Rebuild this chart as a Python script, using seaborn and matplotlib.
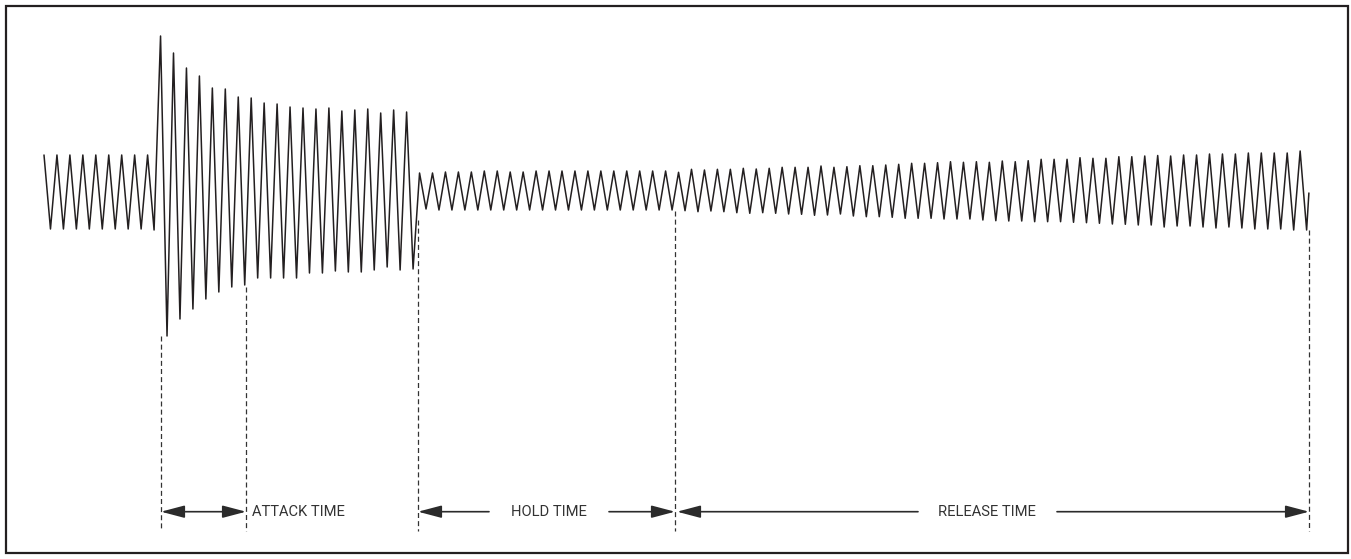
import numpy as np
import pandas as pd
import matplotlib
matplotlib.use("Agg")
import matplotlib.pyplot as plt
from matplotlib.patches import Rectangle
import seaborn as sns

# Waveform: level of each peak / trough (screen rows, smaller = higher),
# one vertex per half cycle.
pre_peaks = [155, 155, 155, 155, 155, 155, 155, 155, 155]
pre_troughs = [229, 229, 229, 229, 229, 229, 229, 229, 230]

attack_peaks = [36, 53, 68, 76, 88, 89, 97, 98, 103, 104,
                107, 108, 109, 108, 111, 110, 109, 113, 110, 112]
attack_troughs = [336, 319, 309, 299, 292, 287, 285, 278, 278, 278,
                  278, 273, 273, 271, 272, 272, 270, 267, 270, 269]

hold_peaks = [173, 173, 172, 172, 172, 171, 171, 172, 172, 171,
              171, 171, 171, 171, 171, 171, 171, 171, 171, 171]
hold_troughs = [209, 210, 210, 210, 210, 210, 210, 210, 210, 210,
                210, 210, 210, 210, 210, 210, 210, 210, 210, 210]

release_peaks = [172.3, 169.3, 170, 169.3, 169.3, 168.3, 169, 168.3, 167.3, 167.3,
                 167.3, 166, 167.3, 166.7, 165.7, 165.7, 165, 164.3, 163.3, 163.3,
                 162.7, 161.7, 162.3, 161.7, 162.3, 161, 161.7, 160.7, 159.3, 159.3,
                 159.3, 157.7, 158.3, 158.3, 156.7, 156.7, 156, 155.5, 156, 155,
                 155, 154, 154, 154, 153, 153, 153, 153, 151]
release_troughs = [210.7, 211.7, 211, 211.7, 212.7, 213.3, 212.7, 213.3, 214, 214.3,
                   215.3, 215, 214, 216, 216.7, 216.7, 217.3, 218.3, 218.3, 218.3,
                   219, 219, 219, 220, 220.7, 221, 221, 221.7, 221.7, 221.7,
                   222.3, 222.7, 223.3, 224, 224.3, 225, 225, 227, 226, 226,
                   227, 228, 227, 228, 229, 229, 229, 230, 230]
end_point = (195.35, 193)

# event boundaries (half-cycle index) and where each dashed marker starts
event_k = [18.07, 31.2, 57.76, 97.45, 195.37]
event_top = [336, 287, 220, 211, 230]
labels = ["ATTACK TIME", "HOLD TIME", "RELEASE TIME"]

levels = []
for peaks, troughs in [(pre_peaks, pre_troughs), (attack_peaks, attack_troughs),
                       (hold_peaks, hold_troughs), (release_peaks, release_troughs)]:
    for p, t in zip(peaks, troughs):
        levels += [p, t]
df = pd.DataFrame({"k": list(range(len(levels))) + [end_point[0]],
                   "level": levels + [end_point[1]]})

sns.set_style("white")
plt.rcParams["font.family"] = ["Roboto", "DejaVu Sans"]
ink = "#231f20"
txt = dict(fontsize=10.6, color="#333333", va="baseline")

fig = plt.figure(figsize=(13.51, 5.59), dpi=100)
ax = fig.add_axes([0, 0, 1, 1])
sns.lineplot(data=df, x="k", y="level", sort=False, estimator=None,
             color=ink, lw=1.1, ax=ax, legend=False)

# pixel -> half-cycle index for layout
px = lambda x: (x - 44) / 6.475

for k, top in zip(event_k, event_top):
    ax.plot([k, k], [top, 531], color="#333333", lw=0.9, dashes=(4, 2.5))

arrow_y = 511.7
arr = dict(mutation_scale=20, shrinkA=0, shrinkB=0, color="#2b2b2b", lw=1.2)
one = "-|>,head_length=0.72,head_width=0.19"
two = "<|-|>,head_length=0.72,head_width=0.19"

ax.annotate("", xy=(event_k[1], arrow_y), xytext=(event_k[0], arrow_y),
            arrowprops=dict(arrowstyle=two, **arr))
ax.text(px(252), 516.5, labels[0], ha="left", **txt)

ax.annotate("", xy=(event_k[2], arrow_y), xytext=(px(489), arrow_y),
            arrowprops=dict(arrowstyle=one, **arr))
ax.text(px(549), 516.5, labels[1], ha="center", **txt)
ax.annotate("", xy=(event_k[3], arrow_y), xytext=(px(609), arrow_y),
            arrowprops=dict(arrowstyle=one, **arr))

ax.annotate("", xy=(px(677), arrow_y), xytext=(px(918), arrow_y),
            arrowprops=dict(arrowstyle=one, **arr))
ax.text(px(986.5), 516.5, labels[2], ha="center", **txt)
ax.annotate("", xy=(event_k[4], arrow_y), xytext=(px(1057), arrow_y),
            arrowprops=dict(arrowstyle=one, **arr))

ax.set_xlim(px(0), px(1351))
ax.set_ylim(559, 0)
ax.axis("off")

# outer frame
fig.patches.append(Rectangle((6 / 1351, 6 / 559), 1342 / 1351, 547 / 559,
                             transform=fig.transFigure, fill=False,
                             edgecolor=ink, lw=1.6))

fig.savefig("out.png", dpi=100)
